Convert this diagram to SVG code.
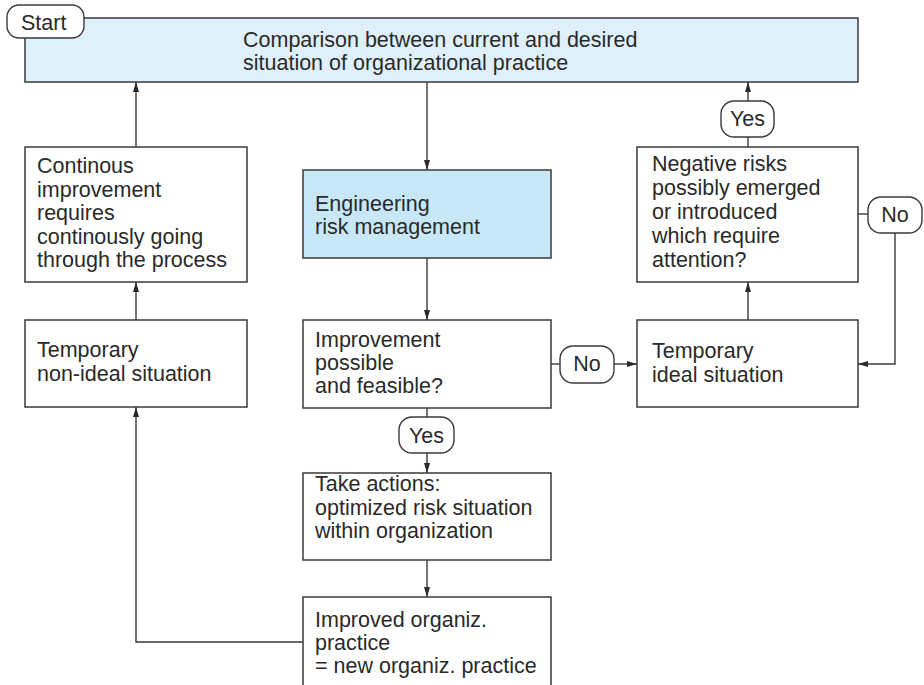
<svg xmlns="http://www.w3.org/2000/svg" width="924" height="685" viewBox="0 0 924 685">
  <style>
    .box { fill: #ffffff; stroke: #3a3a3a; stroke-width: 1.5; }
    .blue1 { fill: #dff0fa; }
    .blue2 { fill: #c8e8f8; }
    .pill { fill: #ffffff; stroke: #3a3a3a; stroke-width: 1.4; }
    .lbl { font-family: "Liberation Sans", Arial, sans-serif; font-size: 21.5px; fill: #2a2a2a; }
    .mid { text-anchor: middle; }
    .conn { fill: none; stroke: #3a3a3a; stroke-width: 1.4; }
  </style>
  <defs>
    <marker id="arrow" viewBox="0 0 10 6" refX="10" refY="3" markerWidth="10" markerHeight="6" markerUnits="userSpaceOnUse" orient="auto">
      <path d="M0,0 L10,3 L0,6 Z" fill="#2a2a2a"/>
    </marker>
  </defs>

  <rect width="924" height="685" fill="#ffffff"/>

  <!-- Connectors -->
  <g id="connectors">
    <line class="conn" x1="427" y1="82" x2="427" y2="170" marker-end="url(#arrow)"/>
    <line class="conn" x1="427" y1="258" x2="427" y2="320" marker-end="url(#arrow)"/>
    <line class="conn" x1="427" y1="408" x2="427" y2="417"/>
    <line class="conn" x1="427" y1="453" x2="427" y2="473" marker-end="url(#arrow)"/>
    <line class="conn" x1="427" y1="560" x2="427" y2="597" marker-end="url(#arrow)"/>
    <polyline class="conn" points="303,642 136,642 136,407" marker-end="url(#arrow)"/>
    <line class="conn" x1="136" y1="320" x2="136" y2="282" marker-end="url(#arrow)"/>
    <line class="conn" x1="136" y1="147" x2="136" y2="82" marker-end="url(#arrow)"/>
    <line class="conn" x1="551" y1="364" x2="560" y2="364"/>
    <line class="conn" x1="614" y1="364" x2="637" y2="364" marker-end="url(#arrow)"/>
    <line class="conn" x1="748" y1="320" x2="748" y2="282" marker-end="url(#arrow)"/>
    <line class="conn" x1="748" y1="147" x2="748" y2="137"/>
    <line class="conn" x1="748" y1="101" x2="748" y2="82" marker-end="url(#arrow)"/>
    <line class="conn" x1="858" y1="214" x2="868" y2="214"/>
    <polyline class="conn" points="895,233 895,364 858,364" marker-end="url(#arrow)"/>
  </g>

  <!-- Comparison -->
  <g id="comparison">
    <rect class="box blue1" x="25" y="18" width="833" height="64"/>
    <text class="lbl" x="243" y="47" font-size="21.8">Comparison between current and desired</text>
    <text class="lbl" x="243" y="70" font-size="21.8">situation of organizational practice</text>
  </g>

  <!-- Start -->
  <g id="start">
    <rect class="pill" x="7" y="5" width="77" height="33" rx="12"/>
    <text class="lbl" x="21" y="30">Start</text>
  </g>

  <!-- Continuous improvement -->
  <g id="continuous">
    <rect class="box" x="25" y="147" width="222" height="135"/>
    <text class="lbl" x="37" y="173">Continous</text>
    <text class="lbl" x="37" y="196.5">improvement</text>
    <text class="lbl" x="37" y="220">requires</text>
    <text class="lbl" x="37" y="243.5">continously going</text>
    <text class="lbl" x="37" y="267">through the process</text>
  </g>

  <!-- Temporary non-ideal -->
  <g id="temp-nonideal">
    <rect class="box" x="25" y="320" width="222" height="87"/>
    <text class="lbl" x="37" y="357">Temporary</text>
    <text class="lbl" x="37" y="381">non-ideal situation</text>
  </g>

  <!-- Engineering risk management -->
  <g id="erm">
    <rect class="box blue2" x="303" y="170" width="248" height="88"/>
    <text class="lbl" x="315" y="211">Engineering</text>
    <text class="lbl" x="315" y="234">risk management</text>
  </g>

  <!-- Improvement possible -->
  <g id="improvement">
    <rect class="box" x="303" y="320" width="248" height="88"/>
    <text class="lbl" x="315" y="347">Improvement</text>
    <text class="lbl" x="315" y="370">possible</text>
    <text class="lbl" x="315" y="393">and feasible?</text>
  </g>

  <!-- Take actions -->
  <g id="actions">
    <rect class="box" x="303" y="473" width="248" height="87"/>
    <text class="lbl" x="315" y="491">Take actions:</text>
    <text class="lbl" x="315" y="514.5">optimized risk situation</text>
    <text class="lbl" x="315" y="538">within organization</text>
  </g>

  <!-- Improved practice -->
  <g id="improved">
    <rect class="box" x="303" y="597" width="248" height="100"/>
    <text class="lbl" x="315" y="627">Improved organiz.</text>
    <text class="lbl" x="315" y="650">practice</text>
    <text class="lbl" x="315" y="673">= new organiz. practice</text>
  </g>

  <!-- Negative risks -->
  <g id="negative">
    <rect class="box" x="637" y="147" width="221" height="135"/>
    <text class="lbl" x="652" y="171">Negative risks</text>
    <text class="lbl" x="652" y="195">possibly emerged</text>
    <text class="lbl" x="652" y="219">or introduced</text>
    <text class="lbl" x="652" y="243">which require</text>
    <text class="lbl" x="652" y="267">attention?</text>
  </g>

  <!-- Temporary ideal -->
  <g id="temp-ideal">
    <rect class="box" x="637" y="320" width="221" height="87"/>
    <text class="lbl" x="652" y="358">Temporary</text>
    <text class="lbl" x="652" y="382">ideal situation</text>
  </g>

  <!-- Decision labels -->
  <g id="yes-top">
    <rect class="pill" x="721" y="101" width="53" height="36" rx="13"/>
    <text class="lbl mid" x="747.5" y="126">Yes</text>
  </g>
  <g id="no-right">
    <rect class="pill" x="868" y="197" width="54" height="36" rx="13"/>
    <text class="lbl mid" x="895" y="222">No</text>
  </g>
  <g id="no-mid">
    <rect class="pill" x="560" y="346" width="54" height="37" rx="13"/>
    <text class="lbl mid" x="587" y="371">No</text>
  </g>
  <g id="yes-mid">
    <rect class="pill" x="399" y="417" width="55" height="36" rx="13"/>
    <text class="lbl mid" x="426.5" y="443">Yes</text>
  </g>
</svg>
